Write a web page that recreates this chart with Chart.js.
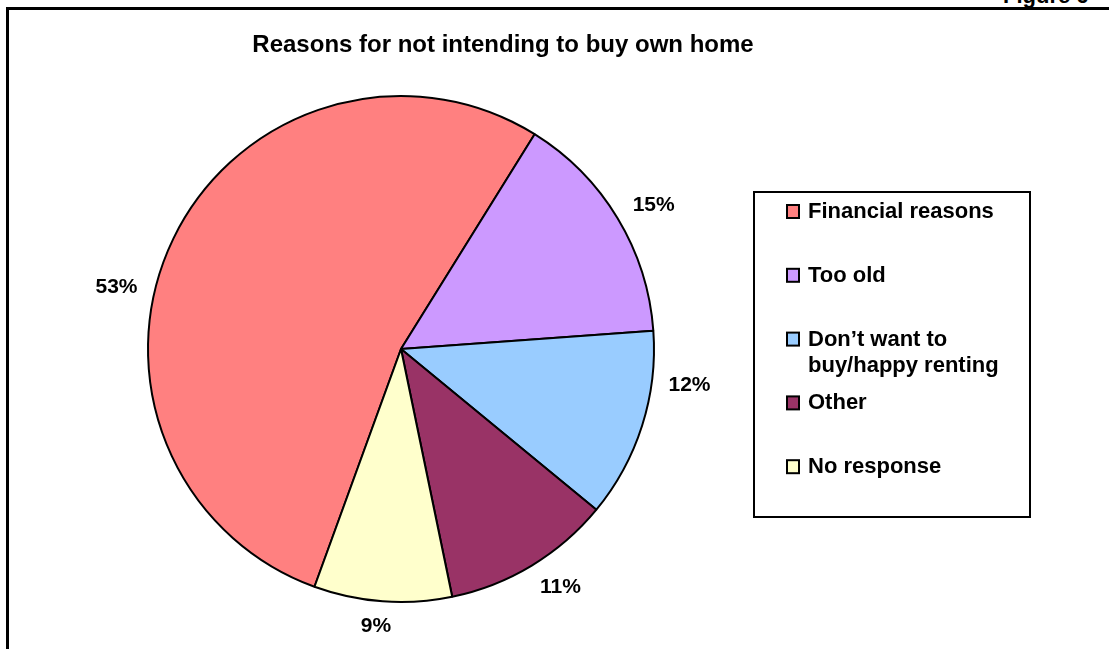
<!DOCTYPE html>
<html lang="en">

<head>
  <meta charset="UTF-8" />
  <meta name="viewport" content="width=device-width, initial-scale=1.0" />
  <title>Reasons for not intending to buy own home</title>
  <style>
    html, body { margin: 0; padding: 0; background: #fff; overflow: hidden; }
    #wrap { position: relative; width: 1109px; height: 649px; overflow: hidden; }
    #frame { position: absolute; left: 6px; top: 7px; width: 1200px; height: 700px; border: 3px solid #000; box-sizing: border-box; }
    #fig { position: absolute; left: 1003px; top: -17px; font: bold 22px "Liberation Sans", Arial, sans-serif; white-space: nowrap; }
    canvas { position: absolute; left: 0; top: 0; }
  </style>
</head>

<body>
  <div id="wrap">
    <div id="frame"></div>
    <div id="fig">Figure 6</div>
    <canvas id="chart" width="1109" height="649"></canvas>
  </div>

  <script src="https://cdn.jsdelivr.net/npm/chart.js@4.4.0/dist/chart.umd.min.js"></script>
  <script>
    const chartTitle = "Reasons for not intending to buy own home";
    const categories = ["Financial reasons", "Too old", "Don\u2019t want to buy/happy renting", "Other", "No response"];
    const shares = [53.3, 15.0, 12.1, 10.8, 8.8];
    const colors = ["#FF8080", "#CC99FF", "#99CCFF", "#993366", "#FFFFCC"];

    const FONT = '"Liberation Sans", Arial, sans-serif';

    // wrap a legend label into lines no wider than maxW
    function wrapText(ctx, text, maxW) {
      let words = text.split(" ");
      let lines = [];
      let cur = "";
      for (let w of words) {
        let test = cur ? cur + " " + w : w;
        if (cur && ctx.measureText(test).width > maxW) {
          lines.push(cur);
          cur = w;
        } else {
          cur = test;
        }
      }
      if (cur) lines.push(cur);
      return lines;
    }

    // title, legend box and the % labels outside the slices
    const extras = {
      id: "extras",
      afterDraw(chart, args, opts) {
        const ctx = chart.ctx;
        ctx.save();

        // title
        ctx.fillStyle = "#000";
        ctx.font = "bold 24px " + FONT;
        ctx.textAlign = "center";
        ctx.textBaseline = "middle";
        ctx.fillText(chartTitle, 503, 45);

        // percentage labels
        const meta = chart.getDatasetMeta(0);
        ctx.font = "bold 21px " + FONT;
        meta.data.forEach((arc, i) => {
          const p = arc.getProps(["x", "y", "startAngle", "endAngle", "outerRadius"], true);
          const mid = (p.startAngle + p.endAngle) / 2 + (opts.shift[i] || 0) * Math.PI / 180;
          const txt = Math.round(shares[i]) + "%";
          const w = ctx.measureText(txt).width;
          const h = 15;
          const c = Math.cos(mid), s = Math.sin(mid);
          const d = p.outerRadius + opts.gap + Math.abs(c) * w / 2 + Math.abs(s) * h / 2;
          ctx.fillText(txt, p.x + c * d, p.y + s * d);
        });

        // legend box
        const box = opts.legendBox;
        ctx.lineWidth = 2;
        ctx.strokeStyle = "#000";
        ctx.strokeRect(box.x, box.y, box.w, box.h);

        ctx.font = "bold 22px " + FONT;
        ctx.textAlign = "left";
        categories.forEach((cat, i) => {
          const cy = box.y + 20 + i * 63.8;
          ctx.fillStyle = colors[i];
          ctx.fillRect(787, cy - 7, 12, 13);
          ctx.lineWidth = 2;
          ctx.strokeStyle = "#000";
          ctx.strokeRect(787, cy - 7, 12, 13);
          ctx.fillStyle = "#000";
          const lines = wrapText(ctx, cat, 215);
          lines.forEach((ln, j) => ctx.fillText(ln, 808, cy + j * 26));
        });

        ctx.restore();
      }
    };

    const ctx = document.getElementById("chart").getContext("2d");
    const myChart = new Chart(ctx, {
      type: "pie",
      data: {
        labels: categories,
        datasets: [
          {
            data: shares,
            backgroundColor: colors,
            borderColor: "#000",
            borderWidth: 2,
            borderAlign: "center",
          },
        ],
      },
      options: {
        responsive: false,
        animation: false,
        rotation: -160,
        layout: {
          padding: { left: 147, top: 95, right: 454, bottom: 46 },
        },
        plugins: {
          legend: { display: false },
          title: { display: false },
          tooltip: { enabled: false },
          extras: {
            gap: 16,
            shift: [-13.7, 1.4, -10.5, -2.7, 1],
            legendBox: { x: 754, y: 192, w: 276, h: 325 },
          },
        },
      },
      plugins: [extras],
    });
  </script>
</body>

</html>
